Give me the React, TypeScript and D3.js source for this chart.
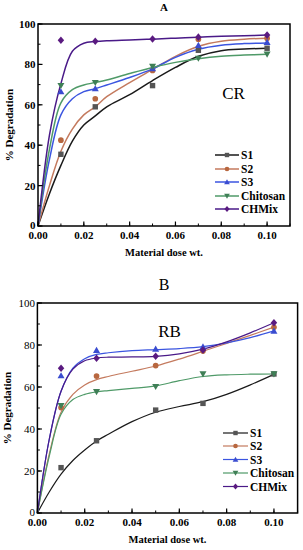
import { line, curveCatmullRom, scaleLinear, range } from "d3";

const seriesNames = ["S1", "S2", "S3", "Chitosan", "CHMix"];
const lineColors = ["#1a1a1a", "#c47a5e", "#3b55e0", "#4f9a68", "#4a1a88"];
const markerColors = ["#555555", "#b8673f", "#3a4cd0", "#3f7f56", "#5a1a80"];
const markerShapes = ["square", "circle", "triangle", "triangleDown", "diamond"];

// measured doses
const doses = [0.01, 0.025, 0.05, 0.07, 0.1];

// panel A (CR) measured points
const crS1 = [35.5, 59, 69.5, 87, 88];
const crS2 = [42.5, 63, 77, 92.5, 93];
const crS3 = [66.5, 68, 78, 89.5, 91];
const crChitosan = [69.5, 71, 79, 83, 85];
const crCHMix = [92, 91.5, 92.6, 93.5, 94.5];

// panel B (RB) measured points
const rbS1 = [21.6, 34.4, 49, 52.2, 66.2];
const rbS2 = [50.2, 65.2, 70.2, 77.1, 88.4];
const rbS3 = [65.4, 77.5, 78.1, 79.2, 86.7];
const rbChitosan = [51.1, 57.8, 60.2, 66.2, 66.2];
const rbCHMix = [68.9, 73.7, 74.6, 77.6, 90.6];

// fitted curves
const fitDoses = [0, 0.005, 0.01, 0.015, 0.02, 0.025, 0.03, 0.04, 0.05, 0.06, 0.07, 0.08, 0.09, 0.1];

const crFitS1 = [0, 16, 30, 42, 50, 54.5, 59, 65, 72, 78.5, 84, 86.8, 87.6, 88];
const crFitS2 = [0, 20, 37, 48, 55, 59, 64, 71, 77.5, 84, 89, 91.5, 92.5, 93];
const crFitS3 = [0, 33, 55, 63, 66.5, 68, 69.8, 73.5, 77.8, 83.5, 87.5, 89.5, 90.3, 90.6];
const crFitChitosan = [0, 38, 61, 67.5, 69.8, 71, 72.3, 75.5, 78.5, 81, 82.8, 84, 84.6, 85];
const crFitCHMix = [0, 45, 70.5, 86.5, 90.5, 91.3, 91.7, 92.1, 92.5, 93, 93.5, 93.9, 94.2, 94.5];

const rbFitS1 = [0, 10, 18.5, 25, 30, 34.3, 37.5, 43.5, 48, 50.7, 53, 56.5, 61, 66];
const rbFitS2 = [0, 28, 48, 56.5, 61, 63.5, 65, 67.5, 70, 73.3, 77, 80.8, 84.6, 88.5];
const rbFitS3 = [0, 35, 58, 69, 73.5, 75.5, 76.3, 77.3, 77.8, 78.3, 79.2, 81, 83.5, 86.7];
const rbFitChitosan = [0, 27, 47, 54, 56.5, 57.7, 58.3, 59.3, 60.5, 63, 65, 65.8, 66.1, 66.2];
const rbFitCHMix = [0, 35, 58, 68.5, 72.5, 73.8, 74.2, 74.3, 74.6, 75.8, 78, 81.5, 85.8, 90.6];

const xTicks = [0, 0.02, 0.04, 0.06, 0.08, 0.1];
const yTicks = [0, 20, 40, 60, 80, 100];

const FONT = "'Liberation Serif', 'Times New Roman', serif";

type Pt = { x: number; y: number };

function Marker({ shape, x, y, color, s = 2.7 }: { shape: string; x: number; y: number; color: string; s?: number }) {
  if (shape === "square") return <rect x={x - s} y={y - s} width={s * 2} height={s * 2} fill={color} />;
  if (shape === "circle") return <circle cx={x} cy={y} r={s * 1.05} fill={color} />;
  if (shape === "triangle")
    return <path d={`M${x},${y - s * 1.3}L${x + s * 1.3},${y + s}L${x - s * 1.3},${y + s}Z`} fill={color} />;
  if (shape === "triangleDown")
    return <path d={`M${x},${y + s * 1.3}L${x + s * 1.3},${y - s}L${x - s * 1.3},${y - s}Z`} fill={color} />;
  return <path d={`M${x},${y - s * 1.4}L${x + s * 1.2},${y}L${x},${y + s * 1.4}L${x - s * 1.2},${y}Z`} fill={color} />;
}

type PanelProps = {
  title: string;
  titleBold: boolean;
  titleSize: number;
  titleY: number;
  label: string;
  labelX: number;
  labelY: number;
  xRange: [number, number];
  yRange: [number, number];
  points: number[][];
  fits: number[][];
  boldY: boolean;
  lineWidth: number;
  legend: { x1: number; x2: number; ys: number[] };
  yTitleX: number;
};

function Panel(p: PanelProps) {
  const x = scaleLinear().domain([0, 0.11]).range(p.xRange);
  const y = scaleLinear().domain([0, 100]).range(p.yRange);
  const [left, right] = p.xRange;
  const [bottom, top] = p.yRange;

  const gen = line<Pt>()
    .x((d) => x(d.x))
    .y((d) => y(d.y))
    .curve(curveCatmullRom.alpha(0.5));

  const minorX = range(0, 0.1101, 0.01);
  const minorY = range(0, 101, 10);

  return (
    <g fontFamily={FONT}>
      <text
        x={164}
        y={p.titleY}
        textAnchor="middle"
        fontSize={p.titleSize}
        fontWeight={p.titleBold ? "bold" : "normal"}
      >
        {p.title}
      </text>

      {p.fits.map((f, i) => (
        <path
          key={`fit-${i}`}
          d={gen(fitDoses.map((d, j) => ({ x: d, y: f[j] }))) ?? ""}
          fill="none"
          stroke={lineColors[i]}
          strokeWidth={p.lineWidth}
        />
      ))}
      {p.points.map((s, i) =>
        s.map((v, j) => (
          <Marker key={`m-${i}-${j}`} shape={markerShapes[i]} x={x(doses[j])} y={y(v)} color={markerColors[i]} />
        )),
      )}

      <rect x={left} y={top} width={right - left} height={bottom - top} fill="none" stroke="#000" strokeWidth={1.5} />

      {minorX.map((t) => (
        <line key={`mx-${t}`} x1={x(t)} x2={x(t)} y1={bottom} y2={bottom - 2.5} stroke="#000" strokeWidth={1} />
      ))}
      {xTicks.map((t) => (
        <g key={`x-${t}`}>
          <line x1={x(t)} x2={x(t)} y1={bottom} y2={bottom - 4.5} stroke="#000" strokeWidth={1.2} />
          <text x={x(t)} y={bottom + 13} textAnchor="middle" fontSize={11} fontWeight="bold">
            {t.toFixed(2)}
          </text>
        </g>
      ))}
      {minorY.map((t) => (
        <line key={`my-${t}`} x1={left} x2={left + 2.5} y1={y(t)} y2={y(t)} stroke="#000" strokeWidth={1} />
      ))}
      {yTicks.map((t) => (
        <g key={`y-${t}`}>
          <line x1={left} x2={left + 4.5} y1={y(t)} y2={y(t)} stroke="#000" strokeWidth={1.2} />
          <text
            x={left - 2.5}
            y={y(t) + (t === 0 ? 2.5 : 4)}
            textAnchor="end"
            fontSize={11}
            fontWeight={p.boldY ? "bold" : "normal"}
          >
            {t}
          </text>
        </g>
      ))}

      <text x={(left + right) / 2} y={bottom + 30} textAnchor="middle" fontSize={10.5} fontWeight="bold">
        Material dose wt.
      </text>
      <text
        transform={`translate(${p.yTitleX},${(top + bottom) / 2}) rotate(-90)`}
        textAnchor="middle"
        fontSize={11}
        fontWeight="bold"
      >
        % Degradation
      </text>

      <text x={p.labelX} y={p.labelY} textAnchor="middle" fontSize={17}>
        {p.label}
      </text>

      {seriesNames.map((name, i) => {
        const ly = p.legend.ys[i];
        return (
          <g key={`lg-${name}`}>
            <line x1={p.legend.x1} x2={p.legend.x2} y1={ly} y2={ly} stroke={lineColors[i]} strokeWidth={p.lineWidth} />
            <Marker shape={markerShapes[i]} x={(p.legend.x1 + p.legend.x2) / 2} y={ly} color={markerColors[i]} s={2.2} />
            <text x={p.legend.x2 + 2} y={ly + 4} fontSize={11.5} fontWeight="bold">
              {name}
            </text>
          </g>
        );
      })}
    </g>
  );
}

export default function App() {
  return (
    <svg
      width={303}
      height={550}
      viewBox="0 0 303 550"
      style={{ position: "absolute", left: 0, top: 0, background: "#fff" }}
    >
      <rect width={303} height={550} fill="#fff" />
      <Panel
        title="A"
        titleBold
        titleSize={11}
        titleY={11}
        label="CR"
        labelX={233.5}
        labelY={99}
        xRange={[38, 290]}
        yRange={[226, 24]}
        points={[crS1, crS2, crS3, crChitosan, crCHMix]}
        fits={[crFitS1, crFitS2, crFitS3, crFitChitosan, crFitCHMix]}
        boldY
        lineWidth={1.5}
        legend={{ x1: 215, x2: 239, ys: [155, 169, 182, 196, 209] }}
        yTitleX={13}
      />
      <Panel
        title="B"
        titleBold={false}
        titleSize={16}
        titleY={290}
        label="RB"
        labelX={169.5}
        labelY={337}
        xRange={[37.4, 297.6]}
        yRange={[513, 303]}
        points={[rbS1, rbS2, rbS3, rbChitosan, rbCHMix]}
        fits={[rbFitS1, rbFitS2, rbFitS3, rbFitChitosan, rbFitCHMix]}
        boldY={false}
        lineWidth={1.2}
        legend={{ x1: 223, x2: 248, ys: [433, 446, 459.5, 473, 486.5] }}
        yTitleX={11}
      />
    </svg>
  );
}
